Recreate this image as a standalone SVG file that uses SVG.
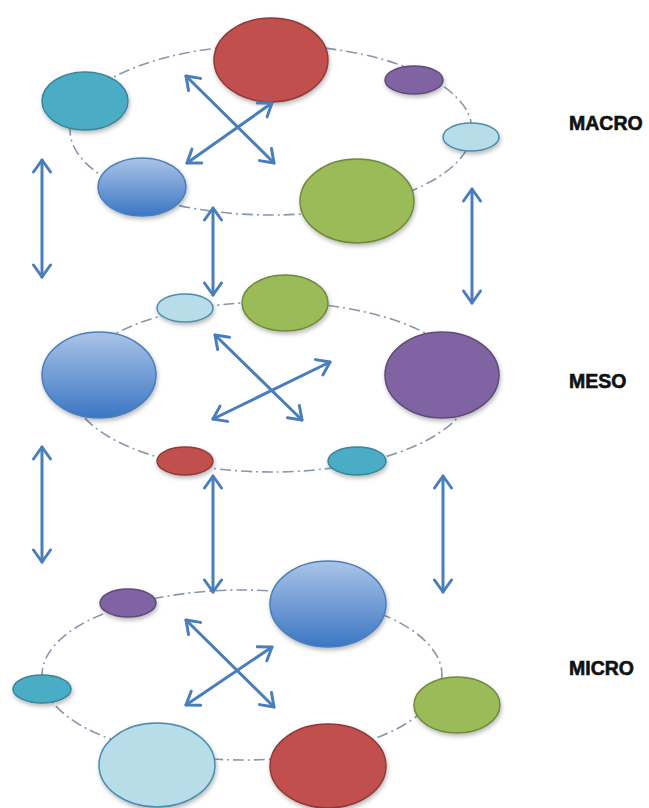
<svg xmlns="http://www.w3.org/2000/svg" width="649" height="808" viewBox="0 0 649 808">
<defs>
<linearGradient id="gBlue" x1="0" y1="0" x2="0" y2="1">
<stop offset="0" stop-color="#aac4e7"/>
<stop offset="1" stop-color="#3b76c3"/>
</linearGradient>
<filter id="sh" x="-20%" y="-20%" width="140%" height="150%">
<feDropShadow dx="1" dy="2.5" stdDeviation="2" flood-color="#000" flood-opacity="0.28"/>
</filter>
<marker id="ah" viewBox="-14 -12 16 24" refX="0" refY="0" markerWidth="16" markerHeight="24" markerUnits="userSpaceOnUse" orient="auto-start-reverse">
<path d="M -12 -8.5 L 0 0 L -12 8.5" fill="none" stroke="#4a7ebb" stroke-width="3" stroke-linecap="round" stroke-linejoin="round"/>
</marker>
</defs>
<style>
.ring{fill:none;stroke:#8797ad;stroke-width:1.6;stroke-dasharray:11 4 2 4}
.n{stroke-width:1.5;filter:url(#sh)}
.red{fill:#c0504d;stroke:#8f3b39}
.teal{fill:#4bacc6;stroke:#3a8499}
.purple{fill:#8064a2;stroke:#5e4a78}
.lblue{fill:#b7dee8;stroke:#4a8cb0}
.green{fill:#9bbb59;stroke:#6f8a3c}
.blue{fill:url(#gBlue);stroke:#4a7ebb}
.arr{fill:none;stroke:#4a7ebb;stroke-width:3;stroke-linecap:round;marker-start:url(#ah);marker-end:url(#ah)}
.lbl{font-family:"Liberation Sans",Arial,sans-serif;font-weight:bold;font-size:19.5px;fill:#111;stroke:#111;stroke-width:0.6}
</style>
<rect width="649" height="808" fill="#fff"/>
<g id="rings">
<ellipse class="ring" cx="271" cy="130" rx="201" ry="85"/>
<ellipse class="ring" cx="271" cy="387" rx="200" ry="85"/>
<ellipse class="ring" cx="242" cy="675" rx="200" ry="85"/>
</g>
<g id="macro-nodes">
<g id="m1"><ellipse class="n red" cx="271" cy="60" rx="57" ry="42"/></g>
<g id="m2"><ellipse class="n teal" cx="85" cy="101" rx="43" ry="29"/></g>
<g id="m3"><ellipse class="n purple" cx="414" cy="80" rx="29" ry="14"/></g>
<g id="m4"><ellipse class="n lblue" cx="471" cy="137" rx="28" ry="14"/></g>
<g id="m5"><ellipse class="n blue" cx="142" cy="187" rx="44" ry="29"/></g>
<g id="m6"><ellipse class="n green" cx="357" cy="201" rx="57" ry="42"/></g>
</g>
<g id="meso-nodes">
<g id="s1"><ellipse class="n lblue" cx="185" cy="308" rx="28" ry="14"/></g>
<g id="s2"><ellipse class="n green" cx="285" cy="303" rx="43" ry="28"/></g>
<g id="s3"><ellipse class="n blue" cx="99" cy="375" rx="57" ry="43"/></g>
<g id="s4"><ellipse class="n purple" cx="442" cy="375" rx="57" ry="43"/></g>
<g id="s5"><ellipse class="n red" cx="185" cy="461" rx="28" ry="14"/></g>
<g id="s6"><ellipse class="n teal" cx="357" cy="461" rx="29" ry="14"/></g>
</g>
<g id="micro-nodes">
<g id="i1"><ellipse class="n purple" cx="128" cy="603" rx="28" ry="14"/></g>
<g id="i2"><ellipse class="n blue" cx="328" cy="604" rx="58" ry="43"/></g>
<g id="i3"><ellipse class="n teal" cx="42" cy="689" rx="29" ry="14"/></g>
<g id="i4"><ellipse class="n green" cx="457" cy="705" rx="43" ry="28"/></g>
<g id="i5"><ellipse class="n lblue" cx="157" cy="765" rx="58" ry="42"/></g>
<g id="i6"><ellipse class="n red" cx="328" cy="766" rx="58" ry="42"/></g>
</g>
<g id="connectors">
<line class="arr" x1="186" y1="76" x2="274" y2="163"/>
<line class="arr" x1="272" y1="103" x2="187" y2="163"/>
<line class="arr" x1="215" y1="335" x2="302" y2="420"/>
<line class="arr" x1="330" y1="362" x2="213" y2="419"/>
<line class="arr" x1="186" y1="620" x2="274" y2="707"/>
<line class="arr" x1="272" y1="647" x2="186" y2="705"/>
<line class="arr" x1="42" y1="160" x2="42" y2="277"/>
<line class="arr" x1="213" y1="208" x2="213" y2="295"/>
<line class="arr" x1="472" y1="189" x2="472" y2="303"/>
<line class="arr" x1="42" y1="447" x2="42" y2="562"/>
<line class="arr" x1="213" y1="476" x2="213" y2="592"/>
<line class="arr" x1="443" y1="476" x2="443" y2="592"/>
</g>
<g id="labels">
<text class="lbl" x="569" y="130">MACRO</text>
<text class="lbl" x="569" y="388">MESO</text>
<text class="lbl" x="569" y="675">MICRO</text>
</g>
</svg>
